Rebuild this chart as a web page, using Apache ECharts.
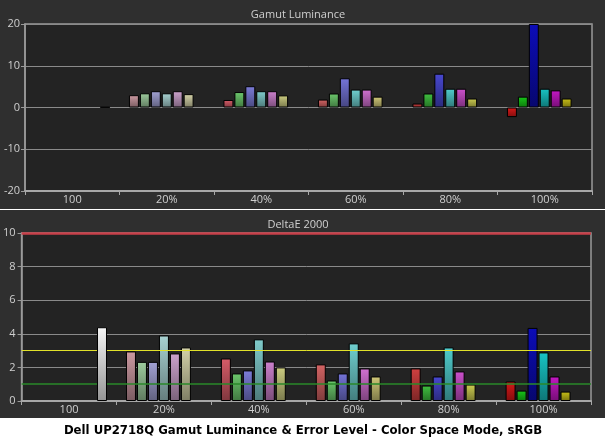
<!DOCTYPE html>
<html>
<head>
<meta charset="utf-8">
<script src="https://cdn.jsdelivr.net/npm/echarts@6/dist/echarts.min.js"></script>
<style>
html,body{margin:0;padding:0;background:#fff;}
#c{width:605px;height:441px;}
</style>
</head>
<body>
<div id="c"></div>
<script>
// ---------- data ----------
const categories = ['100', '20%', '40%', '60%', '80%', '100%'];
const seriesNames = ['Red', 'Green', 'Blue', 'Cyan', 'Magenta', 'Yellow', 'White'];

// Gamut Luminance (%)
const lumRed     = [null, 2.95, 1.8, 1.9, 0.95, -2.3];
const lumGreen   = [null, 3.4, 3.7, 3.35, 3.35, 2.6];
const lumBlue    = [null, 3.9, 5.1, 7.0, 8.1, 20];
const lumCyan    = [null, 3.4, 3.9, 4.3, 4.5, 4.5];
const lumMagenta = [null, 3.9, 3.9, 4.3, 4.5, 4.1];
const lumYellow  = [null, 3.2, 2.9, 2.6, 2.15, 2.15];
const lumWhite   = [0.1, null, null, null, null, null];

// DeltaE 2000
const deRed     = [null, 2.95, 2.53, 2.18, 1.94, 1.16];
const deGreen   = [null, 2.33, 1.64, 1.22, 0.92, 0.62];
const deBlue    = [null, 2.33, 1.82, 1.64, 1.46, 4.35];
const deCyan    = [null, 3.9, 3.67, 3.43, 3.19, 2.89];
const deMagenta = [null, 2.83, 2.35, 1.94, 1.76, 1.46];
const deYellow  = [null, 3.19, 2.0, 1.46, 0.98, 0.56];
const deWhite   = [4.39, null, null, null, null, null];

// reference lines on DeltaE chart
const deLimitValues = [10, 3, 1];

const lumTicks = { min: -20, max: 20, interval: 10 };
const deTicks = { min: 0, max: 10, interval: 2 };

// ---------- styles ----------
const palette = [
  [null, null, null, null, null, null, '#f6f6f6'],
  ['#cc9aa2', '#9ecc9e', '#a2a2d4', '#a8d2d2', '#cca2cc', '#d4d2a8', null],
  ['#d65c68', '#6cc86c', '#7c7cd8', '#80cccc', '#cc80cc', '#cccc80', null],
  ['#d46464', '#6cc86c', '#7474d8', '#70d0d0', '#d070d0', '#d0c878', null],
  ['#d04040', '#40c040', '#4848d0', '#50cccc', '#cc50cc', '#cccc50', null],
  ['#d81818', '#18c818', '#0c0cb8', '#18c4c4', '#c418c4', '#c8c018', null]
];
const limitStyles = [
  { color: '#c8404a', width: 2.5 },
  { color: '#e2e22a', width: 1 },
  { color: '#2a8a2a', width: 1.5 }
];

function darken(hex, f) {
  const n = parseInt(hex.slice(1), 16);
  const r = Math.round(((n >> 16) & 255) * f);
  const g = Math.round(((n >> 8) & 255) * f);
  const b = Math.round((n & 255) * f);
  return 'rgb(' + r + ',' + g + ',' + b + ')';
}
function grad(hex) {
  return new echarts.graphic.LinearGradient(0, 0, 0, 1, [
    { offset: 0, color: hex },
    { offset: 1, color: darken(hex, 0.6) }
  ]);
}

const lumSets = [lumRed, lumGreen, lumBlue, lumCyan, lumMagenta, lumYellow, lumWhite];
const deSets = [deRed, deGreen, deBlue, deCyan, deMagenta, deYellow, deWhite];

function buildSeries(sets, axisIdx) {
  return sets.map((vals, si) => ({
    name: seriesNames[si],
    type: 'bar',
    xAxisIndex: axisIdx,
    yAxisIndex: axisIdx,
    barCategoryGap: '20%',
    barGap: '10%',
    z: si === 6 ? 5 : 2,
    silent: true,
    animation: false,
    itemStyle: { borderColor: '#000', borderWidth: 1 },
    data: vals.map((v, ci) => v == null ? '-' : {
      value: v,
      itemStyle: { color: grad(palette[ci][si]) }
    })
  }));
}

const lumSeries = buildSeries(lumSets, 0);
const deSeries = buildSeries(deSets, 1);
deSeries[6].markLine = {
  silent: true,
  symbol: 'none',
  animation: false,
  label: { show: false },
  data: deLimitValues.map((v, i) => ({ yAxis: v, lineStyle: { type: 'solid', color: limitStyles[i].color, width: limitStyles[i].width } }))
};

const labelFont = { color: '#cfcfcf', fontSize: 11, fontFamily: 'Open Sans' };

const option = {
  backgroundColor: '#ffffff',
  animation: false,
  graphic: [
    { type: 'rect', z: -100, silent: true, shape: { x: 0, y: 0, width: 605, height: 209 }, style: { fill: '#2f2f2f' } },
    { type: 'rect', z: -100, silent: true, shape: { x: 0, y: 210, width: 605, height: 208 }, style: { fill: '#2f2f2f' } },
    { type: 'text', x: 298, y: 15, style: { text: 'Gamut Luminance', fill: '#d0d0d0', font: '11px "Open Sans"', textAlign: 'center', textVerticalAlign: 'middle' } },
    { type: 'text', x: 298, y: 225, style: { text: 'DeltaE 2000', fill: '#d0d0d0', font: '11px "Open Sans"', textAlign: 'center', textVerticalAlign: 'middle' } },
    { type: 'text', x: 303, y: 431, style: { text: 'Dell UP2718Q Gamut Luminance & Error Level - Color Space Mode, sRGB', fill: '#000', font: 'bold 13px "DejaVu Sans Condensed", "DejaVu Sans"', textAlign: 'center', textVerticalAlign: 'middle' } }
  ],
  grid: [
    { left: 25, right: 13, top: 24, height: 167, show: true, backgroundColor: '#232323', borderColor: '#9a9a9a', borderWidth: 1.5 },
    { left: 21, right: 14, top: 233, height: 168, show: true, backgroundColor: '#232323', borderColor: '#9a9a9a', borderWidth: 1.5 }
  ],
  xAxis: [0, 1].map(i => ({
    type: 'category',
    gridIndex: i,
    data: categories,
    axisLine: { onZero: false, lineStyle: { color: '#a8a8a8', width: 2 } },
    axisTick: { show: true, length: 4, lineStyle: { color: '#a8a8a8' } },
    axisLabel: Object.assign({ margin: 3 }, labelFont),
    splitLine: { show: false }
  })),
  yAxis: [
    Object.assign({
      type: 'value', gridIndex: 0,
      axisLabel: Object.assign({ margin: 5 }, labelFont)
    }, lumTicks),
    Object.assign({
      type: 'value', gridIndex: 1,
      axisLabel: Object.assign({ margin: 6 }, labelFont)
    }, deTicks)
  ].map(a => Object.assign(a, {
    axisLine: { show: true, lineStyle: { color: '#9a9a9a', width: 1.5 } },
    axisTick: { show: true, length: 4, lineStyle: { color: '#9a9a9a' } },
    splitLine: { show: true, lineStyle: { color: '#8a8a8a', width: 1 } }
  })),
  series: lumSeries.concat(deSeries)
};

const chart = echarts.init(document.getElementById('c'), null, { renderer: 'canvas' });
chart.setOption(option);
</script>
</body>
</html>
